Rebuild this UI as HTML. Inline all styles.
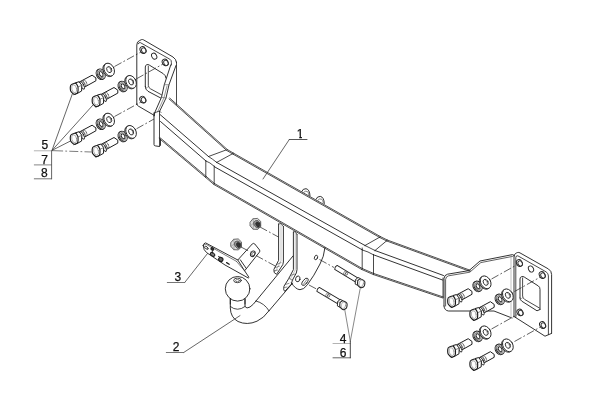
<!DOCTYPE html>
<html><head><meta charset="utf-8"><title>Towbar exploded view</title>
<style>html,body{margin:0;padding:0;background:#fff}svg{display:block}</style></head>
<body>
<svg style="filter:grayscale(1)" width="600" height="411" viewBox="0 0 600 411" fill="none" stroke-linecap="round" stroke-linejoin="round">
<rect width="600" height="411" fill="#fff"/>
<line x1="176.5" y1="62" x2="176.5" y2="104.5" stroke="#1c1c1c" stroke-width="0.8" />
<path d="M136.8,104 L136.8,45 Q136.8,41.5 139.5,40.6 L141.5,39.6 Q142.5,39.3 143.6,39.9 L173,57 Q176.2,59 176.5,62.5" stroke="#1c1c1c" stroke-width="0.9" fill="none" />
<path d="M138.2,43.8 Q138.6,42.2 140.3,42.6 L169.8,59.2 Q171.6,60.2 171.4,62.6 L171.4,65" stroke="#1c1c1c" stroke-width="0.8" fill="none" />
<path d="M136.8,104 Q136.9,105.3 138.2,106 L154.3,115.4" stroke="#1c1c1c" stroke-width="0.9" fill="none" />
<ellipse cx="143" cy="50" rx="2.8" ry="3.5" transform="rotate(-30 143 50)" stroke="#1c1c1c" stroke-width="0.9" fill="none"/>
<ellipse cx="143.8" cy="50.5" rx="2.1" ry="2.8" transform="rotate(-30 143.8 50.5)" stroke="#333" stroke-width="0.9" fill="none"/>
<ellipse cx="165.2" cy="62.4" rx="2.8" ry="3.5" transform="rotate(-30 165.2 62.4)" stroke="#1c1c1c" stroke-width="0.9" fill="none"/>
<ellipse cx="166.0" cy="62.9" rx="2.1" ry="2.8" transform="rotate(-30 166.0 62.9)" stroke="#333" stroke-width="0.9" fill="none"/>
<ellipse cx="142.8" cy="99.6" rx="2.8" ry="3.5" transform="rotate(-30 142.8 99.6)" stroke="#1c1c1c" stroke-width="0.9" fill="none"/>
<ellipse cx="143.60000000000002" cy="100.1" rx="2.1" ry="2.8" transform="rotate(-30 143.60000000000002 100.1)" stroke="#333" stroke-width="0.9" fill="none"/>
<ellipse cx="154.2" cy="56.2" rx="2.4" ry="3.2" transform="rotate(-30 154.2 56.2)" stroke="#1c1c1c" stroke-width="0.9" fill="none"/>
<path d="M145.3,86.5 L145.3,67 Q145.3,65.2 146.8,64.7 Q148,64.3 149.2,65 L163.3,73.7 Q165.8,75.4 166,78  M145.3,86.5 Q145.3,89.6 148,91.3 L160.7,98" stroke="#1c1c1c" stroke-width="0.9" fill="none" />
<path d="M148.3,66.2 L148.3,85.3 Q148.5,87.7 150.3,88.7 L161.5,94.8" stroke="#1c1c1c" stroke-width="0.8" fill="none" />
<path d="M145.6,88.4 L148.5,86.6" stroke="#555" stroke-width="0.5" fill="none" />
<path d="M170.8,64.8 L164.3,84.7 L161.5,97.3 L155,112 L154,116" stroke="#1c1c1c" stroke-width="0.9" fill="none" />
<path d="M176,65.5 L169,84.7 L166,98 L159.5,111.5" stroke="#1c1c1c" stroke-width="0.9" fill="none" />
<path d="M167,86 L164,97.6 L157.6,111.8" stroke="#555" stroke-width="0.6" fill="none" />
<path d="M164.3,84.7 L169,84.7 M161.5,97.3 L166,98" stroke="#555" stroke-width="0.6" fill="none" />
<path d="M154,113 L154,144.5 Q154,145.8 155.4,145.9 L159.5,146.5 L160.5,145.5 L160.5,139" stroke="#1c1c1c" stroke-width="0.9" fill="none" />
<line x1="159.5" y1="111.5" x2="159.5" y2="146" stroke="#1c1c1c" stroke-width="0.8" />
<path d="M154,113 L159.5,111 L161,112.5" stroke="#1c1c1c" stroke-width="0.7" fill="none" />
<line x1="169.03" y1="98.91" x2="226.63" y2="150.41" stroke="#222" stroke-width="0.8" />
<line x1="169.77" y1="98.09" x2="227.37" y2="149.59" stroke="#222" stroke-width="0.8" />
<line x1="160" y1="114.5" x2="208.5" y2="156.5" stroke="#1c1c1c" stroke-width="0.9" />
<line x1="160.5" y1="121.5" x2="206" y2="161" stroke="#1c1c1c" stroke-width="0.9" />
<line x1="159.15" y1="138.42" x2="205.65" y2="177.42" stroke="#222" stroke-width="0.8" />
<line x1="159.85" y1="137.58" x2="206.35" y2="176.58" stroke="#222" stroke-width="0.8" />
<path d="M208.5,156.5 L226,150  M216.7,162.4 L233,153.5" stroke="#1c1c1c" stroke-width="0.8" fill="none" />
<line x1="226.72" y1="150.47" x2="233.22" y2="154.27" stroke="#222" stroke-width="0.8" />
<line x1="227.28" y1="149.53" x2="233.78" y2="153.33" stroke="#222" stroke-width="0.8" />
<path d="M208.5,156.5 Q212,158.6 216.7,162.4 M206,161 Q209.5,162 214.5,166.5" stroke="#1c1c1c" stroke-width="0.8" fill="none" />
<path d="M205.8,160.5 L205.8,177 M214.2,166 L214.2,184" stroke="#1c1c1c" stroke-width="0.8" fill="none" />
<line x1="205.64" y1="177.42" x2="213.84" y2="184.42" stroke="#222" stroke-width="0.8" />
<line x1="206.36" y1="176.58" x2="214.56" y2="183.58" stroke="#222" stroke-width="0.8" />
<line x1="233.23" y1="154.28" x2="379.73" y2="237.48" stroke="#222" stroke-width="0.8" />
<line x1="233.77" y1="153.32" x2="380.27" y2="236.52" stroke="#222" stroke-width="0.8" />
<line x1="216.7" y1="162.4" x2="365" y2="245.5" stroke="#1c1c1c" stroke-width="0.9" />
<line x1="214.5" y1="166.8" x2="362.5" y2="250" stroke="#1c1c1c" stroke-width="0.9" />
<line x1="213.93" y1="184.48" x2="361.73" y2="269.48" stroke="#222" stroke-width="0.8" />
<line x1="214.47" y1="183.52" x2="362.27" y2="268.52" stroke="#222" stroke-width="0.8" />
<path d="M365,245.5 L380,237 M375,250.5 L387,240.5" stroke="#1c1c1c" stroke-width="0.8" fill="none" />
<line x1="379.75" y1="237.49" x2="386.75" y2="240.99" stroke="#222" stroke-width="0.8" />
<line x1="380.25" y1="236.51" x2="387.25" y2="240.01" stroke="#222" stroke-width="0.8" />
<path d="M365,245.5 L375,250.5 M362.5,250 Q368,251.5 373.5,254.8" stroke="#1c1c1c" stroke-width="0.8" fill="none" />
<path d="M362.2,248 L362.2,269 M373.5,254.5 L373.5,274" stroke="#1c1c1c" stroke-width="0.8" fill="none" />
<line x1="361.78" y1="269.5" x2="373.28" y2="274.5" stroke="#222" stroke-width="0.8" />
<line x1="362.22" y1="268.5" x2="373.72" y2="273.5" stroke="#222" stroke-width="0.8" />
<line x1="386.81" y1="241.02" x2="469.81" y2="271.32" stroke="#222" stroke-width="0.8" />
<line x1="387.19" y1="239.98" x2="470.19" y2="270.28" stroke="#222" stroke-width="0.8" />
<line x1="375" y1="250.5" x2="443.5" y2="275.5" stroke="#1c1c1c" stroke-width="0.9" />
<line x1="373.5" y1="254.8" x2="442.5" y2="280" stroke="#1c1c1c" stroke-width="0.9" />
<line x1="373.32" y1="274.52" x2="442.82" y2="298.02" stroke="#222" stroke-width="0.8" />
<line x1="373.68" y1="273.48" x2="443.18" y2="296.98" stroke="#222" stroke-width="0.8" />
<g transform="translate(0 0)">
<path d="M301.8,191.4 Q302.8,188.5 306,188.7 Q309.7,189.3 310,195.8" stroke="#1c1c1c" stroke-width="0.9" fill="none" />
<path d="M303.6,192.4 Q305.4,190.4 307.4,191.5 Q308.8,192.6 309,195.2" stroke="#555" stroke-width="0.7" fill="none" />
</g>
<g transform="translate(14.3 7.7)">
<path d="M301.8,191.4 Q302.8,188.5 306,188.7 Q309.7,189.3 310,195.8" stroke="#1c1c1c" stroke-width="0.9" fill="none" />
<path d="M303.6,192.4 Q305.4,190.4 307.4,191.5 Q308.8,192.6 309,195.2" stroke="#555" stroke-width="0.7" fill="none" />
</g>
<path d="M278.6,224 L278.6,260.4 L273.9,269.4 Q273.4,273.6 276.6,274.3 L282.8,264.6 L283.4,262 L283.4,226.5" stroke="#1c1c1c" stroke-width="0.9" fill="#fff" />
<path d="M281,225 L281,260.6 L275.6,271" stroke="#8a8a8a" stroke-width="0.5" fill="none" />
<path d="M278.6,224 L281,223.6 L283.4,226.5" stroke="#1c1c1c" stroke-width="0.7" fill="none" />
<path d="M276.4,264.6 L281,262.6 M274.8,267.8 L279.4,266.2 M274,271 L277.6,270" stroke="#444" stroke-width="0.6" fill="none" />
<path d="M293.4,232 L293.4,269.6 L288.9,278.3 L284,286.2 Q283,290.8 285,291.2 L291.3,284.2 L292.4,280.2 L296.3,273 L297,269.6 L297,234.5" stroke="#1c1c1c" stroke-width="0.9" fill="#fff" />
<path d="M295.2,233 L295.2,270 L290.4,279" stroke="#8a8a8a" stroke-width="0.5" fill="none" />
<path d="M293.4,232 L295.2,231.6 L297,234.5" stroke="#1c1c1c" stroke-width="0.7" fill="none" />
<path d="M290.6,275.4 L295,274 M288.9,278.3 L292.8,280.4 M285.4,284.4 L289,283.4 M284.4,287.6 L287,287" stroke="#444" stroke-width="0.6" fill="none" />
<path d="M325,247.5 Q324,257 320,264 Q314,276 307.4,284.8 Q303.6,289.8 300,289.7 Q295.4,289.4 291.4,282.8" stroke="#1c1c1c" stroke-width="0.9" fill="none" />
<ellipse cx="316" cy="257.5" rx="1.5" ry="2.4" transform="rotate(20 316 257.5)" stroke="#1c1c1c" stroke-width="0.8" fill="none"/>
<ellipse cx="297.8" cy="278.9" rx="2.2" ry="2.9" transform="rotate(15 297.8 278.9)" stroke="#1c1c1c" stroke-width="0.85" fill="none"/>
<ellipse cx="305" cy="281.8" rx="2.1" ry="4.3" transform="rotate(38 305 281.8)" stroke="#1c1c1c" stroke-width="0.85" fill="none"/>
<path d="M303.6,284 L306.6,279.8" stroke="#444" stroke-width="0.6" fill="none" />
<path d="M293,256 L256,301" stroke="#1c1c1c" stroke-width="0.9" fill="none" />
<path d="M292.5,283.2 L269,310.8" stroke="#1c1c1c" stroke-width="0.9" fill="none" />
<path d="M245,299 L245,306.5 Q246.5,309.2 250,307 Q253.5,304.6 256,301" stroke="#1c1c1c" stroke-width="0.9" fill="none" />
<path d="M230.3,299 L230.3,308 Q230.6,317.5 238,321.5 Q247,325.6 257,321.2 Q263.5,318.4 269,310.8" stroke="#1c1c1c" stroke-width="0.9" fill="none" />
<path d="M256,301 Q264.5,303.2 269,310.8" stroke="#1c1c1c" stroke-width="0.8" fill="none" />
<path d="M230.3,306.5 Q237.5,312.2 245,306.5" stroke="#1c1c1c" stroke-width="0.8" fill="none" />
<ellipse cx="237.6" cy="288.8" rx="12.3" ry="12.3" transform="rotate(0 237.6 288.8)" stroke="#1c1c1c" stroke-width="0.9" fill="#fff"/>
<path d="M230.3,298.6 L230.3,304 M245,298.8 L245,304" stroke="#1c1c1c" stroke-width="0.9" fill="none" />
<ellipse cx="237.5" cy="280.4" rx="3.8" ry="2.3" transform="rotate(0 237.5 280.4)" stroke="#1c1c1c" stroke-width="0.8" fill="none"/>
<ellipse cx="237.5" cy="280.6" rx="2.0" ry="1.1" transform="rotate(0 237.5 280.6)" stroke="#555" stroke-width="0.7" fill="none"/>
<path d="M203.2,245.6 Q203.6,243 205.6,242.9 L237.8,260 L252.3,243.9 Q253.6,242.8 254.8,244 L259.6,250 Q260.2,251.2 259.4,252.2 L246.4,268.6 L244.6,270.8 L249,277.4 L248.3,278 L225,265 L206.6,252.6 Q203.5,250.4 203.2,245.6 Z" stroke="#1c1c1c" stroke-width="0.9" fill="#fff" />
<path d="M204.4,244.6 Q205.2,244 206.6,244.6 L236.4,261.3" stroke="#444" stroke-width="0.7" fill="none" />
<path d="M237.8,260 L244.6,270.8 M240.3,259.8 L246.4,268.6" stroke="#1c1c1c" stroke-width="0.9" fill="none" />
<path d="M236.4,261.3 L244.6,270.8" stroke="#444" stroke-width="0.7" fill="none" />
<ellipse cx="252.8" cy="253.8" rx="2.1" ry="3.0" transform="rotate(28 252.8 253.8)" stroke="#1c1c1c" stroke-width="0.9" fill="none"/>
<ellipse cx="253.3" cy="254.1" rx="1.3" ry="2.1" transform="rotate(28 253.3 254.1)" stroke="#333" stroke-width="0.7" fill="none"/>
<ellipse cx="206.4" cy="247.8" rx="2.0" ry="1.1" transform="rotate(35 206.4 247.8)" stroke="#1c1c1c" stroke-width="0.8" fill="none"/>
<ellipse cx="212.3" cy="248.9" rx="1.5" ry="1.2" transform="rotate(30 212.3 248.9)" stroke="#1c1c1c" stroke-width="1.0" fill="#333"/>
<ellipse cx="212.6" cy="254.4" rx="2.4" ry="1.5" transform="rotate(35 212.6 254.4)" stroke="#1c1c1c" stroke-width="1.1" fill="#888"/>
<ellipse cx="220.8" cy="259.4" rx="2.2" ry="2.0" transform="rotate(35 220.8 259.4)" stroke="#1c1c1c" stroke-width="1.1" fill="#666"/>
<path d="M226.6,262.6 L229.2,264.2" stroke="#1c1c1c" stroke-width="1.3" fill="none" />
<path d="M212.3,250 L212.6,253 M218.4,256.4 L221,257.6" stroke="#1c1c1c" stroke-width="0.8" fill="none" />
<g transform="translate(255.5 224) rotate(0) scale(0.93)">
<path d="M-5.6,-2.2 L-2.8,-5.6 L2.2,-6.0 L5.6,-2.8 L5.6,2.6 L2.4,5.8 L-2.6,5.6 L-5.6,2.2Z" stroke="#3a3a3a" stroke-width="0.8" fill="#dcdcdc" />
<path d="M-2.8,-5.6 L-2.0,-1.0 L-5.6,2.2 M-2.0,-1.0 L-2.6,5.6" stroke="#777" stroke-width="0.6" fill="none" />
<ellipse cx="1.8" cy="0.2" rx="3.3" ry="4.2" transform="rotate(-28 1.8 0.2)" stroke="#444" stroke-width="0.7" fill="#999"/>
<ellipse cx="2.4" cy="0.5" rx="2.0" ry="2.8" transform="rotate(-28 2.4 0.5)" stroke="#222" stroke-width="0.6" fill="#333"/>
</g>
<g transform="translate(236.2 244.5) rotate(0) scale(0.93)">
<path d="M-5.6,-2.2 L-2.8,-5.6 L2.2,-6.0 L5.6,-2.8 L5.6,2.6 L2.4,5.8 L-2.6,5.6 L-5.6,2.2Z" stroke="#3a3a3a" stroke-width="0.8" fill="#dcdcdc" />
<path d="M-2.8,-5.6 L-2.0,-1.0 L-5.6,2.2 M-2.0,-1.0 L-2.6,5.6" stroke="#777" stroke-width="0.6" fill="none" />
<ellipse cx="1.8" cy="0.2" rx="3.3" ry="4.2" transform="rotate(-28 1.8 0.2)" stroke="#444" stroke-width="0.7" fill="#999"/>
<ellipse cx="2.4" cy="0.5" rx="2.0" ry="2.8" transform="rotate(-28 2.4 0.5)" stroke="#222" stroke-width="0.6" fill="#333"/>
</g>
<line x1="260" y1="227" x2="278.5" y2="237" stroke="#1c1c1c" stroke-width="0.7" stroke-dasharray="8 2.2 1.8 2.2" stroke-linecap="butt"/>
<line x1="241" y1="247" x2="250.5" y2="252" stroke="#1c1c1c" stroke-width="0.7" stroke-dasharray="8 2.2 1.8 2.2" stroke-linecap="butt"/>
<line x1="256" y1="255.5" x2="277" y2="267" stroke="#1c1c1c" stroke-width="0.7" stroke-dasharray="8 2.2 1.8 2.2" stroke-linecap="butt"/>
<g transform="translate(361.6 282.9)">
<g transform="rotate(31)">
<path d="M-30,-2.35 L-5,-2.35 L-5,2.35 L-30,2.35 Q-31.4,0 -30,-2.35Z" stroke="#1c1c1c" stroke-width="0.9" fill="#fff" />
<ellipse cx="-19.6" cy="0" rx="0.9" ry="2.3" transform="rotate(0 -19.6 0)" stroke="#555" stroke-width="0.6" fill="none"/>
<ellipse cx="-17.6" cy="0" rx="0.9" ry="2.3" transform="rotate(0 -17.6 0)" stroke="#555" stroke-width="0.6" fill="none"/>
</g>
<path d="M-1.2,-4.3 L-3.6,-5.4 L-6.2,-3.2 L-6.4,1.2 L-4.1,2.3" stroke="#1c1c1c" stroke-width="0.9" fill="#fff" />
<path d="M-3.9,-2.4 L-6.2,-3.2" stroke="#555" stroke-width="0.6" fill="none" />
<path d="M-2.01,-3.73 Q-1.2,-4.3 0.21,-3.55 L2.09,-2.55 Q3.5,-1.8 3.32,-0.21 L3.08,1.91 Q2.9,3.5 1.82,4.01 L0.38,4.69 Q-0.7,5.2 -1.72,4.33 L-3.08,3.17 Q-4.1,2.3 -4.04,0.89 L-3.96,-0.99 Q-3.9,-2.4 -3.09,-2.97 Z" stroke="#1c1c1c" stroke-width="1.05" fill="#fff" />
<ellipse cx="-0.3" cy="0.4" rx="2.2" ry="3.4" transform="rotate(14 -0.3 0.4)" stroke="#777" stroke-width="0.5" fill="none"/>
</g>
<g transform="translate(343.8 304.8)">
<g transform="rotate(31)">
<path d="M-30,-2.35 L-5,-2.35 L-5,2.35 L-30,2.35 Q-31.4,0 -30,-2.35Z" stroke="#1c1c1c" stroke-width="0.9" fill="#fff" />
<ellipse cx="-19.6" cy="0" rx="0.9" ry="2.3" transform="rotate(0 -19.6 0)" stroke="#555" stroke-width="0.6" fill="none"/>
<ellipse cx="-17.6" cy="0" rx="0.9" ry="2.3" transform="rotate(0 -17.6 0)" stroke="#555" stroke-width="0.6" fill="none"/>
</g>
<path d="M-1.2,-4.3 L-3.6,-5.4 L-6.2,-3.2 L-6.4,1.2 L-4.1,2.3" stroke="#1c1c1c" stroke-width="0.9" fill="#fff" />
<path d="M-3.9,-2.4 L-6.2,-3.2" stroke="#555" stroke-width="0.6" fill="none" />
<path d="M-2.01,-3.73 Q-1.2,-4.3 0.21,-3.55 L2.09,-2.55 Q3.5,-1.8 3.32,-0.21 L3.08,1.91 Q2.9,3.5 1.82,4.01 L0.38,4.69 Q-0.7,5.2 -1.72,4.33 L-3.08,3.17 Q-4.1,2.3 -4.04,0.89 L-3.96,-0.99 Q-3.9,-2.4 -3.09,-2.97 Z" stroke="#1c1c1c" stroke-width="1.05" fill="#fff" />
<ellipse cx="-0.3" cy="0.4" rx="2.2" ry="3.4" transform="rotate(14 -0.3 0.4)" stroke="#777" stroke-width="0.5" fill="none"/>
</g>
<line x1="319.5" y1="259.5" x2="334" y2="267.5" stroke="#1c1c1c" stroke-width="0.7" stroke-dasharray="8 2.2 1.8 2.2" stroke-linecap="butt"/>
<line x1="309" y1="285" x2="316.5" y2="289" stroke="#1c1c1c" stroke-width="0.7" stroke-dasharray="8 2.2 1.8 2.2" stroke-linecap="butt"/>
<path d="M444,306 L444,278.5 Q444.2,275 447.5,274.2 L469,270.6 L480,261 L512.5,254.6 Q514,254.4 514,256" stroke="#1c1c1c" stroke-width="0.9" fill="none" />
<path d="M445.6,306 L445.6,279.5 Q445.8,276.4 448.6,275.8 L469.8,272.2 L480.8,262.6 L512.5,256.4" stroke="#1c1c1c" stroke-width="0.7" fill="none" />
<path d="M444,306 Q444.4,310.6 448.5,311 L494,311 L512,318" stroke="#1c1c1c" stroke-width="0.9" fill="none" />
<path d="M443,278 L443,297.5" stroke="#1c1c1c" stroke-width="0.8" fill="none" />
<path d="M514,316.5 L514,257 Q514,253.8 516.4,253 L517.6,252.5 Q518.8,252.2 520,252.9 L548.5,269 Q551.6,271 551.6,274.5 L551.6,333" stroke="#1c1c1c" stroke-width="0.9" fill="none" />
<path d="M515.8,317.5 L515.8,257.5 Q516,255.4 517.8,255.8 L546,271.8 Q548.4,273.2 548.4,276 L548.4,334.5" stroke="#1c1c1c" stroke-width="0.8" fill="none" />
<path d="M514,316.5 L545,336.2 L551.6,333.4" stroke="#1c1c1c" stroke-width="0.9" fill="none" />
<line x1="511" y1="255.2" x2="511" y2="317.6" stroke="#999" stroke-width="0.6" />
<ellipse cx="519.4" cy="263" rx="2.8" ry="3.5" transform="rotate(-30 519.4 263)" stroke="#1c1c1c" stroke-width="0.9" fill="none"/>
<ellipse cx="520.1999999999999" cy="263.5" rx="2.1" ry="2.8" transform="rotate(-30 520.1999999999999 263.5)" stroke="#333" stroke-width="0.9" fill="none"/>
<ellipse cx="542.2" cy="275" rx="2.8" ry="3.5" transform="rotate(-30 542.2 275)" stroke="#1c1c1c" stroke-width="0.9" fill="none"/>
<ellipse cx="543.0" cy="275.5" rx="2.1" ry="2.8" transform="rotate(-30 543.0 275.5)" stroke="#333" stroke-width="0.9" fill="none"/>
<ellipse cx="520" cy="312.4" rx="2.8" ry="3.5" transform="rotate(-30 520 312.4)" stroke="#1c1c1c" stroke-width="0.9" fill="none"/>
<ellipse cx="520.8" cy="312.9" rx="2.1" ry="2.8" transform="rotate(-30 520.8 312.9)" stroke="#333" stroke-width="0.9" fill="none"/>
<ellipse cx="542.6" cy="325" rx="2.8" ry="3.5" transform="rotate(-30 542.6 325)" stroke="#1c1c1c" stroke-width="0.9" fill="none"/>
<ellipse cx="543.4" cy="325.5" rx="2.1" ry="2.8" transform="rotate(-30 543.4 325.5)" stroke="#333" stroke-width="0.9" fill="none"/>
<ellipse cx="531" cy="269" rx="2.4" ry="3.2" transform="rotate(-30 531 269)" stroke="#1c1c1c" stroke-width="0.9" fill="none"/>
<path d="M520,298 L520,279 Q520,277 521.8,276.6 Q523,276.3 524.2,277 L538.4,286 Q540,287 540,289.5 L540,309.5  M520,298 Q520,300 521.8,301.2 L537,310.8 L540,309.5" stroke="#1c1c1c" stroke-width="0.9" fill="none" />
<path d="M522.6,278 L522.6,296 Q522.8,298.2 524.6,299.4 L539.4,308" stroke="#1c1c1c" stroke-width="0.8" fill="none" />
<path d="M520.2,299.6 L522.8,297.6" stroke="#555" stroke-width="0.5" fill="none" />
<g transform="translate(74.2 88.8) rotate(0)">
<path d="M4.80,-6.60 L17.90,-13.60 L21.70,-10.90 L21.70,-8.00 L10.50,-1.80Z" stroke="#1c1c1c" stroke-width="1.0" fill="#fff" />
<ellipse cx="9.2" cy="-5.0" rx="1.3" ry="3.3" transform="rotate(-27 9.2 -5.0)" stroke="#555" stroke-width="0.6" fill="none"/>
<ellipse cx="11.0" cy="-6.0" rx="1.3" ry="3.3" transform="rotate(-27 11.0 -6.0)" stroke="#555" stroke-width="0.6" fill="none"/>
<ellipse cx="8.0" cy="-3.4" rx="1.5" ry="4.3" transform="rotate(-27 8.0 -3.4)" stroke="#1c1c1c" stroke-width="0.8" fill="#fff"/>
<path d="M1.5,-6.1 L4.8,-7.0 L7.6,-3.6 L7.4,2.2 L3.7,4.3 L-0.3,5.8" stroke="#1c1c1c" stroke-width="1.0" fill="#fff" />
<path d="M4.0,-1.9 L7.6,-3.6" stroke="#555" stroke-width="0.7" fill="none" />
<path d="M-3.90,-1.88 Q-3.9,-3.8 -2.17,-4.54 L-0.23,-5.36 Q1.5,-6.1 2.30,-4.76 L3.20,-3.24 Q4.0,-1.9 3.90,0.08 L3.80,2.32 Q3.7,4.3 2.42,4.78 L0.98,5.32 Q-0.3,5.8 -1.45,4.65 L-2.75,3.35 Q-3.9,2.2 -3.90,0.28 Z" stroke="#1c1c1c" stroke-width="1.15" fill="#fff" />
<ellipse cx="0" cy="0" rx="2.4" ry="4.0" transform="rotate(-12 0 0)" stroke="#777" stroke-width="0.55" fill="none"/>
</g>
<g transform="translate(100.80000000000001 74.2) rotate(-27)">
<ellipse cx="-0.6" cy="0" rx="3.8" ry="5.4" transform="rotate(0 -0.6 0)" stroke="#1c1c1c" stroke-width="0.9" fill="#fff"/>
<ellipse cx="0.5" cy="0" rx="3.8" ry="5.4" transform="rotate(0 0.5 0)" stroke="#1c1c1c" stroke-width="0.9" fill="#e4e4e4"/>
<ellipse cx="0.4" cy="0" rx="2.6" ry="3.9" transform="rotate(0 0.4 0)" stroke="#444" stroke-width="0.6" fill="#fff"/>
<ellipse cx="0.4" cy="0" rx="1.6" ry="2.6" transform="rotate(0 0.4 0)" stroke="#1c1c1c" stroke-width="0.9" fill="#fff"/>
</g>
<g transform="translate(109.2 69.6) rotate(-27)">
<ellipse cx="-1.1" cy="0" rx="4.9" ry="6.8" transform="rotate(0 -1.1 0)" stroke="#1c1c1c" stroke-width="0.8" fill="#fff"/>
<ellipse cx="0" cy="0" rx="4.9" ry="6.8" transform="rotate(0 0 0)" stroke="#1c1c1c" stroke-width="0.85" fill="#fff"/>
<ellipse cx="0" cy="0" rx="2.3" ry="3.2" transform="rotate(0 0 0)" stroke="#1c1c1c" stroke-width="0.8" fill="#fff"/>
<path d="M0.6,-2.8000000000000003 Q2.5999999999999996,0 0.6,2.8000000000000003" stroke="#555" stroke-width="0.5" fill="none" />
</g>
<g transform="translate(96.1 101.1) rotate(0)">
<path d="M4.80,-6.60 L17.90,-13.60 L21.70,-10.90 L21.70,-8.00 L10.50,-1.80Z" stroke="#1c1c1c" stroke-width="1.0" fill="#fff" />
<ellipse cx="9.2" cy="-5.0" rx="1.3" ry="3.3" transform="rotate(-27 9.2 -5.0)" stroke="#555" stroke-width="0.6" fill="none"/>
<ellipse cx="11.0" cy="-6.0" rx="1.3" ry="3.3" transform="rotate(-27 11.0 -6.0)" stroke="#555" stroke-width="0.6" fill="none"/>
<ellipse cx="8.0" cy="-3.4" rx="1.5" ry="4.3" transform="rotate(-27 8.0 -3.4)" stroke="#1c1c1c" stroke-width="0.8" fill="#fff"/>
<path d="M1.5,-6.1 L4.8,-7.0 L7.6,-3.6 L7.4,2.2 L3.7,4.3 L-0.3,5.8" stroke="#1c1c1c" stroke-width="1.0" fill="#fff" />
<path d="M4.0,-1.9 L7.6,-3.6" stroke="#555" stroke-width="0.7" fill="none" />
<path d="M-3.90,-1.88 Q-3.9,-3.8 -2.17,-4.54 L-0.23,-5.36 Q1.5,-6.1 2.30,-4.76 L3.20,-3.24 Q4.0,-1.9 3.90,0.08 L3.80,2.32 Q3.7,4.3 2.42,4.78 L0.98,5.32 Q-0.3,5.8 -1.45,4.65 L-2.75,3.35 Q-3.9,2.2 -3.90,0.28 Z" stroke="#1c1c1c" stroke-width="1.15" fill="#fff" />
<ellipse cx="0" cy="0" rx="2.4" ry="4.0" transform="rotate(-12 0 0)" stroke="#777" stroke-width="0.55" fill="none"/>
</g>
<g transform="translate(122.69999999999999 86.5) rotate(-27)">
<ellipse cx="-0.6" cy="0" rx="3.8" ry="5.4" transform="rotate(0 -0.6 0)" stroke="#1c1c1c" stroke-width="0.9" fill="#fff"/>
<ellipse cx="0.5" cy="0" rx="3.8" ry="5.4" transform="rotate(0 0.5 0)" stroke="#1c1c1c" stroke-width="0.9" fill="#e4e4e4"/>
<ellipse cx="0.4" cy="0" rx="2.6" ry="3.9" transform="rotate(0 0.4 0)" stroke="#444" stroke-width="0.6" fill="#fff"/>
<ellipse cx="0.4" cy="0" rx="1.6" ry="2.6" transform="rotate(0 0.4 0)" stroke="#1c1c1c" stroke-width="0.9" fill="#fff"/>
</g>
<g transform="translate(131.1 81.89999999999999) rotate(-27)">
<ellipse cx="-1.1" cy="0" rx="4.9" ry="6.8" transform="rotate(0 -1.1 0)" stroke="#1c1c1c" stroke-width="0.8" fill="#fff"/>
<ellipse cx="0" cy="0" rx="4.9" ry="6.8" transform="rotate(0 0 0)" stroke="#1c1c1c" stroke-width="0.85" fill="#fff"/>
<ellipse cx="0" cy="0" rx="2.3" ry="3.2" transform="rotate(0 0 0)" stroke="#1c1c1c" stroke-width="0.8" fill="#fff"/>
<path d="M0.6,-2.8000000000000003 Q2.5999999999999996,0 0.6,2.8000000000000003" stroke="#555" stroke-width="0.5" fill="none" />
</g>
<g transform="translate(74.2 138.8) rotate(0)">
<path d="M4.80,-6.60 L17.90,-13.60 L21.70,-10.90 L21.70,-8.00 L10.50,-1.80Z" stroke="#1c1c1c" stroke-width="1.0" fill="#fff" />
<ellipse cx="9.2" cy="-5.0" rx="1.3" ry="3.3" transform="rotate(-27 9.2 -5.0)" stroke="#555" stroke-width="0.6" fill="none"/>
<ellipse cx="11.0" cy="-6.0" rx="1.3" ry="3.3" transform="rotate(-27 11.0 -6.0)" stroke="#555" stroke-width="0.6" fill="none"/>
<ellipse cx="8.0" cy="-3.4" rx="1.5" ry="4.3" transform="rotate(-27 8.0 -3.4)" stroke="#1c1c1c" stroke-width="0.8" fill="#fff"/>
<path d="M1.5,-6.1 L4.8,-7.0 L7.6,-3.6 L7.4,2.2 L3.7,4.3 L-0.3,5.8" stroke="#1c1c1c" stroke-width="1.0" fill="#fff" />
<path d="M4.0,-1.9 L7.6,-3.6" stroke="#555" stroke-width="0.7" fill="none" />
<path d="M-3.90,-1.88 Q-3.9,-3.8 -2.17,-4.54 L-0.23,-5.36 Q1.5,-6.1 2.30,-4.76 L3.20,-3.24 Q4.0,-1.9 3.90,0.08 L3.80,2.32 Q3.7,4.3 2.42,4.78 L0.98,5.32 Q-0.3,5.8 -1.45,4.65 L-2.75,3.35 Q-3.9,2.2 -3.90,0.28 Z" stroke="#1c1c1c" stroke-width="1.15" fill="#fff" />
<ellipse cx="0" cy="0" rx="2.4" ry="4.0" transform="rotate(-12 0 0)" stroke="#777" stroke-width="0.55" fill="none"/>
</g>
<g transform="translate(100.80000000000001 124.20000000000002) rotate(-27)">
<ellipse cx="-0.6" cy="0" rx="3.8" ry="5.4" transform="rotate(0 -0.6 0)" stroke="#1c1c1c" stroke-width="0.9" fill="#fff"/>
<ellipse cx="0.5" cy="0" rx="3.8" ry="5.4" transform="rotate(0 0.5 0)" stroke="#1c1c1c" stroke-width="0.9" fill="#e4e4e4"/>
<ellipse cx="0.4" cy="0" rx="2.6" ry="3.9" transform="rotate(0 0.4 0)" stroke="#444" stroke-width="0.6" fill="#fff"/>
<ellipse cx="0.4" cy="0" rx="1.6" ry="2.6" transform="rotate(0 0.4 0)" stroke="#1c1c1c" stroke-width="0.9" fill="#fff"/>
</g>
<g transform="translate(109.2 119.60000000000001) rotate(-27)">
<ellipse cx="-1.1" cy="0" rx="4.9" ry="6.8" transform="rotate(0 -1.1 0)" stroke="#1c1c1c" stroke-width="0.8" fill="#fff"/>
<ellipse cx="0" cy="0" rx="4.9" ry="6.8" transform="rotate(0 0 0)" stroke="#1c1c1c" stroke-width="0.85" fill="#fff"/>
<ellipse cx="0" cy="0" rx="2.3" ry="3.2" transform="rotate(0 0 0)" stroke="#1c1c1c" stroke-width="0.8" fill="#fff"/>
<path d="M0.6,-2.8000000000000003 Q2.5999999999999996,0 0.6,2.8000000000000003" stroke="#555" stroke-width="0.5" fill="none" />
</g>
<g transform="translate(96.1 151.10000000000002) rotate(0)">
<path d="M4.80,-6.60 L17.90,-13.60 L21.70,-10.90 L21.70,-8.00 L10.50,-1.80Z" stroke="#1c1c1c" stroke-width="1.0" fill="#fff" />
<ellipse cx="9.2" cy="-5.0" rx="1.3" ry="3.3" transform="rotate(-27 9.2 -5.0)" stroke="#555" stroke-width="0.6" fill="none"/>
<ellipse cx="11.0" cy="-6.0" rx="1.3" ry="3.3" transform="rotate(-27 11.0 -6.0)" stroke="#555" stroke-width="0.6" fill="none"/>
<ellipse cx="8.0" cy="-3.4" rx="1.5" ry="4.3" transform="rotate(-27 8.0 -3.4)" stroke="#1c1c1c" stroke-width="0.8" fill="#fff"/>
<path d="M1.5,-6.1 L4.8,-7.0 L7.6,-3.6 L7.4,2.2 L3.7,4.3 L-0.3,5.8" stroke="#1c1c1c" stroke-width="1.0" fill="#fff" />
<path d="M4.0,-1.9 L7.6,-3.6" stroke="#555" stroke-width="0.7" fill="none" />
<path d="M-3.90,-1.88 Q-3.9,-3.8 -2.17,-4.54 L-0.23,-5.36 Q1.5,-6.1 2.30,-4.76 L3.20,-3.24 Q4.0,-1.9 3.90,0.08 L3.80,2.32 Q3.7,4.3 2.42,4.78 L0.98,5.32 Q-0.3,5.8 -1.45,4.65 L-2.75,3.35 Q-3.9,2.2 -3.90,0.28 Z" stroke="#1c1c1c" stroke-width="1.15" fill="#fff" />
<ellipse cx="0" cy="0" rx="2.4" ry="4.0" transform="rotate(-12 0 0)" stroke="#777" stroke-width="0.55" fill="none"/>
</g>
<g transform="translate(122.69999999999999 136.50000000000003) rotate(-27)">
<ellipse cx="-0.6" cy="0" rx="3.8" ry="5.4" transform="rotate(0 -0.6 0)" stroke="#1c1c1c" stroke-width="0.9" fill="#fff"/>
<ellipse cx="0.5" cy="0" rx="3.8" ry="5.4" transform="rotate(0 0.5 0)" stroke="#1c1c1c" stroke-width="0.9" fill="#e4e4e4"/>
<ellipse cx="0.4" cy="0" rx="2.6" ry="3.9" transform="rotate(0 0.4 0)" stroke="#444" stroke-width="0.6" fill="#fff"/>
<ellipse cx="0.4" cy="0" rx="1.6" ry="2.6" transform="rotate(0 0.4 0)" stroke="#1c1c1c" stroke-width="0.9" fill="#fff"/>
</g>
<g transform="translate(131.1 131.90000000000003) rotate(-27)">
<ellipse cx="-1.1" cy="0" rx="4.9" ry="6.8" transform="rotate(0 -1.1 0)" stroke="#1c1c1c" stroke-width="0.8" fill="#fff"/>
<ellipse cx="0" cy="0" rx="4.9" ry="6.8" transform="rotate(0 0 0)" stroke="#1c1c1c" stroke-width="0.85" fill="#fff"/>
<ellipse cx="0" cy="0" rx="2.3" ry="3.2" transform="rotate(0 0 0)" stroke="#1c1c1c" stroke-width="0.8" fill="#fff"/>
<path d="M0.6,-2.8000000000000003 Q2.5999999999999996,0 0.6,2.8000000000000003" stroke="#555" stroke-width="0.5" fill="none" />
</g>
<line x1="114.5" y1="66.5" x2="141" y2="52" stroke="#1c1c1c" stroke-width="0.7" stroke-dasharray="8 2.2 1.8 2.2" stroke-linecap="butt"/>
<line x1="136.5" y1="78.8" x2="163" y2="64" stroke="#1c1c1c" stroke-width="0.7" stroke-dasharray="8 2.2 1.8 2.2" stroke-linecap="butt"/>
<line x1="114.5" y1="116.5" x2="141" y2="102" stroke="#1c1c1c" stroke-width="0.7" stroke-dasharray="8 2.2 1.8 2.2" stroke-linecap="butt"/>
<line x1="136.5" y1="128.8" x2="154" y2="119" stroke="#1c1c1c" stroke-width="0.7" stroke-dasharray="8 2.2 1.8 2.2" stroke-linecap="butt"/>
<g transform="translate(451.6 301.6) rotate(0)">
<path d="M4.80,-6.60 L16.58,-12.90 L20.38,-10.20 L20.38,-7.30 L10.50,-1.80Z" stroke="#1c1c1c" stroke-width="1.0" fill="#fff" />
<ellipse cx="9.2" cy="-5.0" rx="1.3" ry="3.3" transform="rotate(-27 9.2 -5.0)" stroke="#555" stroke-width="0.6" fill="none"/>
<ellipse cx="11.0" cy="-6.0" rx="1.3" ry="3.3" transform="rotate(-27 11.0 -6.0)" stroke="#555" stroke-width="0.6" fill="none"/>
<ellipse cx="8.0" cy="-3.4" rx="1.5" ry="4.3" transform="rotate(-27 8.0 -3.4)" stroke="#1c1c1c" stroke-width="0.8" fill="#fff"/>
<path d="M1.5,-6.1 L4.8,-7.0 L7.6,-3.6 L7.4,2.2 L3.7,4.3 L-0.3,5.8" stroke="#1c1c1c" stroke-width="1.0" fill="#fff" />
<path d="M4.0,-1.9 L7.6,-3.6" stroke="#555" stroke-width="0.7" fill="none" />
<path d="M-3.90,-1.88 Q-3.9,-3.8 -2.17,-4.54 L-0.23,-5.36 Q1.5,-6.1 2.30,-4.76 L3.20,-3.24 Q4.0,-1.9 3.90,0.08 L3.80,2.32 Q3.7,4.3 2.42,4.78 L0.98,5.32 Q-0.3,5.8 -1.45,4.65 L-2.75,3.35 Q-3.9,2.2 -3.90,0.28 Z" stroke="#1c1c1c" stroke-width="1.15" fill="#fff" />
<ellipse cx="0" cy="0" rx="2.4" ry="4.0" transform="rotate(-12 0 0)" stroke="#777" stroke-width="0.55" fill="none"/>
</g>
<g transform="translate(477.6 286.40000000000003) rotate(-29)">
<ellipse cx="-0.6" cy="0" rx="3.8" ry="5.4" transform="rotate(0 -0.6 0)" stroke="#1c1c1c" stroke-width="0.9" fill="#fff"/>
<ellipse cx="0.5" cy="0" rx="3.8" ry="5.4" transform="rotate(0 0.5 0)" stroke="#1c1c1c" stroke-width="0.9" fill="#e4e4e4"/>
<ellipse cx="0.4" cy="0" rx="2.6" ry="3.9" transform="rotate(0 0.4 0)" stroke="#444" stroke-width="0.6" fill="#fff"/>
<ellipse cx="0.4" cy="0" rx="1.6" ry="2.6" transform="rotate(0 0.4 0)" stroke="#1c1c1c" stroke-width="0.9" fill="#fff"/>
</g>
<g transform="translate(485.70000000000005 282.3) rotate(-29)">
<ellipse cx="-1.1" cy="0" rx="4.9" ry="6.8" transform="rotate(0 -1.1 0)" stroke="#1c1c1c" stroke-width="0.8" fill="#fff"/>
<ellipse cx="0" cy="0" rx="4.9" ry="6.8" transform="rotate(0 0 0)" stroke="#1c1c1c" stroke-width="0.85" fill="#fff"/>
<ellipse cx="0" cy="0" rx="2.3" ry="3.2" transform="rotate(0 0 0)" stroke="#1c1c1c" stroke-width="0.8" fill="#fff"/>
<path d="M0.6,-2.8000000000000003 Q2.5999999999999996,0 0.6,2.8000000000000003" stroke="#555" stroke-width="0.5" fill="none" />
</g>
<g transform="translate(473.8 314.6) rotate(0)">
<path d="M4.80,-6.60 L16.58,-12.90 L20.38,-10.20 L20.38,-7.30 L10.50,-1.80Z" stroke="#1c1c1c" stroke-width="1.0" fill="#fff" />
<ellipse cx="9.2" cy="-5.0" rx="1.3" ry="3.3" transform="rotate(-27 9.2 -5.0)" stroke="#555" stroke-width="0.6" fill="none"/>
<ellipse cx="11.0" cy="-6.0" rx="1.3" ry="3.3" transform="rotate(-27 11.0 -6.0)" stroke="#555" stroke-width="0.6" fill="none"/>
<ellipse cx="8.0" cy="-3.4" rx="1.5" ry="4.3" transform="rotate(-27 8.0 -3.4)" stroke="#1c1c1c" stroke-width="0.8" fill="#fff"/>
<path d="M1.5,-6.1 L4.8,-7.0 L7.6,-3.6 L7.4,2.2 L3.7,4.3 L-0.3,5.8" stroke="#1c1c1c" stroke-width="1.0" fill="#fff" />
<path d="M4.0,-1.9 L7.6,-3.6" stroke="#555" stroke-width="0.7" fill="none" />
<path d="M-3.90,-1.88 Q-3.9,-3.8 -2.17,-4.54 L-0.23,-5.36 Q1.5,-6.1 2.30,-4.76 L3.20,-3.24 Q4.0,-1.9 3.90,0.08 L3.80,2.32 Q3.7,4.3 2.42,4.78 L0.98,5.32 Q-0.3,5.8 -1.45,4.65 L-2.75,3.35 Q-3.9,2.2 -3.90,0.28 Z" stroke="#1c1c1c" stroke-width="1.15" fill="#fff" />
<ellipse cx="0" cy="0" rx="2.4" ry="4.0" transform="rotate(-12 0 0)" stroke="#777" stroke-width="0.55" fill="none"/>
</g>
<g transform="translate(499.8 299.40000000000003) rotate(-29)">
<ellipse cx="-0.6" cy="0" rx="3.8" ry="5.4" transform="rotate(0 -0.6 0)" stroke="#1c1c1c" stroke-width="0.9" fill="#fff"/>
<ellipse cx="0.5" cy="0" rx="3.8" ry="5.4" transform="rotate(0 0.5 0)" stroke="#1c1c1c" stroke-width="0.9" fill="#e4e4e4"/>
<ellipse cx="0.4" cy="0" rx="2.6" ry="3.9" transform="rotate(0 0.4 0)" stroke="#444" stroke-width="0.6" fill="#fff"/>
<ellipse cx="0.4" cy="0" rx="1.6" ry="2.6" transform="rotate(0 0.4 0)" stroke="#1c1c1c" stroke-width="0.9" fill="#fff"/>
</g>
<g transform="translate(507.90000000000003 295.3) rotate(-29)">
<ellipse cx="-1.1" cy="0" rx="4.9" ry="6.8" transform="rotate(0 -1.1 0)" stroke="#1c1c1c" stroke-width="0.8" fill="#fff"/>
<ellipse cx="0" cy="0" rx="4.9" ry="6.8" transform="rotate(0 0 0)" stroke="#1c1c1c" stroke-width="0.85" fill="#fff"/>
<ellipse cx="0" cy="0" rx="2.3" ry="3.2" transform="rotate(0 0 0)" stroke="#1c1c1c" stroke-width="0.8" fill="#fff"/>
<path d="M0.6,-2.8000000000000003 Q2.5999999999999996,0 0.6,2.8000000000000003" stroke="#555" stroke-width="0.5" fill="none" />
</g>
<g transform="translate(451.6 351.6) rotate(0)">
<path d="M4.80,-6.60 L16.58,-12.90 L20.38,-10.20 L20.38,-7.30 L10.50,-1.80Z" stroke="#1c1c1c" stroke-width="1.0" fill="#fff" />
<ellipse cx="9.2" cy="-5.0" rx="1.3" ry="3.3" transform="rotate(-27 9.2 -5.0)" stroke="#555" stroke-width="0.6" fill="none"/>
<ellipse cx="11.0" cy="-6.0" rx="1.3" ry="3.3" transform="rotate(-27 11.0 -6.0)" stroke="#555" stroke-width="0.6" fill="none"/>
<ellipse cx="8.0" cy="-3.4" rx="1.5" ry="4.3" transform="rotate(-27 8.0 -3.4)" stroke="#1c1c1c" stroke-width="0.8" fill="#fff"/>
<path d="M1.5,-6.1 L4.8,-7.0 L7.6,-3.6 L7.4,2.2 L3.7,4.3 L-0.3,5.8" stroke="#1c1c1c" stroke-width="1.0" fill="#fff" />
<path d="M4.0,-1.9 L7.6,-3.6" stroke="#555" stroke-width="0.7" fill="none" />
<path d="M-3.90,-1.88 Q-3.9,-3.8 -2.17,-4.54 L-0.23,-5.36 Q1.5,-6.1 2.30,-4.76 L3.20,-3.24 Q4.0,-1.9 3.90,0.08 L3.80,2.32 Q3.7,4.3 2.42,4.78 L0.98,5.32 Q-0.3,5.8 -1.45,4.65 L-2.75,3.35 Q-3.9,2.2 -3.90,0.28 Z" stroke="#1c1c1c" stroke-width="1.15" fill="#fff" />
<ellipse cx="0" cy="0" rx="2.4" ry="4.0" transform="rotate(-12 0 0)" stroke="#777" stroke-width="0.55" fill="none"/>
</g>
<g transform="translate(477.6 336.40000000000003) rotate(-29)">
<ellipse cx="-0.6" cy="0" rx="3.8" ry="5.4" transform="rotate(0 -0.6 0)" stroke="#1c1c1c" stroke-width="0.9" fill="#fff"/>
<ellipse cx="0.5" cy="0" rx="3.8" ry="5.4" transform="rotate(0 0.5 0)" stroke="#1c1c1c" stroke-width="0.9" fill="#e4e4e4"/>
<ellipse cx="0.4" cy="0" rx="2.6" ry="3.9" transform="rotate(0 0.4 0)" stroke="#444" stroke-width="0.6" fill="#fff"/>
<ellipse cx="0.4" cy="0" rx="1.6" ry="2.6" transform="rotate(0 0.4 0)" stroke="#1c1c1c" stroke-width="0.9" fill="#fff"/>
</g>
<g transform="translate(485.70000000000005 332.3) rotate(-29)">
<ellipse cx="-1.1" cy="0" rx="4.9" ry="6.8" transform="rotate(0 -1.1 0)" stroke="#1c1c1c" stroke-width="0.8" fill="#fff"/>
<ellipse cx="0" cy="0" rx="4.9" ry="6.8" transform="rotate(0 0 0)" stroke="#1c1c1c" stroke-width="0.85" fill="#fff"/>
<ellipse cx="0" cy="0" rx="2.3" ry="3.2" transform="rotate(0 0 0)" stroke="#1c1c1c" stroke-width="0.8" fill="#fff"/>
<path d="M0.6,-2.8000000000000003 Q2.5999999999999996,0 0.6,2.8000000000000003" stroke="#555" stroke-width="0.5" fill="none" />
</g>
<g transform="translate(473.8 364.6) rotate(0)">
<path d="M4.80,-6.60 L16.58,-12.90 L20.38,-10.20 L20.38,-7.30 L10.50,-1.80Z" stroke="#1c1c1c" stroke-width="1.0" fill="#fff" />
<ellipse cx="9.2" cy="-5.0" rx="1.3" ry="3.3" transform="rotate(-27 9.2 -5.0)" stroke="#555" stroke-width="0.6" fill="none"/>
<ellipse cx="11.0" cy="-6.0" rx="1.3" ry="3.3" transform="rotate(-27 11.0 -6.0)" stroke="#555" stroke-width="0.6" fill="none"/>
<ellipse cx="8.0" cy="-3.4" rx="1.5" ry="4.3" transform="rotate(-27 8.0 -3.4)" stroke="#1c1c1c" stroke-width="0.8" fill="#fff"/>
<path d="M1.5,-6.1 L4.8,-7.0 L7.6,-3.6 L7.4,2.2 L3.7,4.3 L-0.3,5.8" stroke="#1c1c1c" stroke-width="1.0" fill="#fff" />
<path d="M4.0,-1.9 L7.6,-3.6" stroke="#555" stroke-width="0.7" fill="none" />
<path d="M-3.90,-1.88 Q-3.9,-3.8 -2.17,-4.54 L-0.23,-5.36 Q1.5,-6.1 2.30,-4.76 L3.20,-3.24 Q4.0,-1.9 3.90,0.08 L3.80,2.32 Q3.7,4.3 2.42,4.78 L0.98,5.32 Q-0.3,5.8 -1.45,4.65 L-2.75,3.35 Q-3.9,2.2 -3.90,0.28 Z" stroke="#1c1c1c" stroke-width="1.15" fill="#fff" />
<ellipse cx="0" cy="0" rx="2.4" ry="4.0" transform="rotate(-12 0 0)" stroke="#777" stroke-width="0.55" fill="none"/>
</g>
<g transform="translate(499.8 349.40000000000003) rotate(-29)">
<ellipse cx="-0.6" cy="0" rx="3.8" ry="5.4" transform="rotate(0 -0.6 0)" stroke="#1c1c1c" stroke-width="0.9" fill="#fff"/>
<ellipse cx="0.5" cy="0" rx="3.8" ry="5.4" transform="rotate(0 0.5 0)" stroke="#1c1c1c" stroke-width="0.9" fill="#e4e4e4"/>
<ellipse cx="0.4" cy="0" rx="2.6" ry="3.9" transform="rotate(0 0.4 0)" stroke="#444" stroke-width="0.6" fill="#fff"/>
<ellipse cx="0.4" cy="0" rx="1.6" ry="2.6" transform="rotate(0 0.4 0)" stroke="#1c1c1c" stroke-width="0.9" fill="#fff"/>
</g>
<g transform="translate(507.90000000000003 345.3) rotate(-29)">
<ellipse cx="-1.1" cy="0" rx="4.9" ry="6.8" transform="rotate(0 -1.1 0)" stroke="#1c1c1c" stroke-width="0.8" fill="#fff"/>
<ellipse cx="0" cy="0" rx="4.9" ry="6.8" transform="rotate(0 0 0)" stroke="#1c1c1c" stroke-width="0.85" fill="#fff"/>
<ellipse cx="0" cy="0" rx="2.3" ry="3.2" transform="rotate(0 0 0)" stroke="#1c1c1c" stroke-width="0.8" fill="#fff"/>
<path d="M0.6,-2.8000000000000003 Q2.5999999999999996,0 0.6,2.8000000000000003" stroke="#555" stroke-width="0.5" fill="none" />
</g>
<line x1="491.5" y1="279" x2="517.5" y2="264.5" stroke="#1c1c1c" stroke-width="0.7" stroke-dasharray="8 2.2 1.8 2.2" stroke-linecap="butt"/>
<line x1="514.5" y1="291.5" x2="540.5" y2="277" stroke="#1c1c1c" stroke-width="0.7" stroke-dasharray="8 2.2 1.8 2.2" stroke-linecap="butt"/>
<line x1="491.5" y1="329" x2="517.5" y2="314.5" stroke="#1c1c1c" stroke-width="0.7" stroke-dasharray="8 2.2 1.8 2.2" stroke-linecap="butt"/>
<line x1="514.5" y1="341.5" x2="540.5" y2="327" stroke="#1c1c1c" stroke-width="0.7" stroke-dasharray="8 2.2 1.8 2.2" stroke-linecap="butt"/>
<line x1="52" y1="150.4" x2="72.5" y2="93.5" stroke="#333" stroke-width="0.75" />
<line x1="52" y1="150.4" x2="93" y2="105" stroke="#333" stroke-width="0.75" />
<line x1="52" y1="150.4" x2="70.5" y2="141" stroke="#333" stroke-width="0.75" />
<line x1="51.6" y1="150.6" x2="91.6" y2="152" stroke="#444" stroke-width="0.7" stroke-dasharray="11.5 2.2 1.8 2.2 9 2.2 1.8 2.2" stroke-linecap="butt"/>
<path d="M34.3,150.8 L51.6,150.8" stroke="#aaa" stroke-width="0.9" fill="none" />
<path d="M34.3,164.9 L51.6,164.9" stroke="#777" stroke-width="0.9" fill="none" />
<path d="M34.3,178.8 L51.6,178.8" stroke="#666" stroke-width="0.9" fill="none" />
<line x1="51.6" y1="150.8" x2="51.6" y2="178.8" stroke="#555" stroke-width="0.9" />
<path d="M263,179 L289.3,139.5" stroke="#333" stroke-width="0.75" fill="none" />
<path d="M289.3,139.5 L307,139.5" stroke="#444" stroke-width="0.9" fill="none" />
<path d="M207.5,253.5 L184.7,282.5" stroke="#333" stroke-width="0.75" fill="none" />
<path d="M167.3,282.5 L184.7,282.5" stroke="#666" stroke-width="0.9" fill="none" />
<path d="M240,315.6 L183.7,352.5" stroke="#333" stroke-width="0.75" fill="none" />
<path d="M166.3,352.5 L183.7,352.5" stroke="#666" stroke-width="0.9" fill="none" />
<path d="M360.2,288.5 L350.3,341.3 M344.8,310 L350.3,341.3" stroke="#555" stroke-width="0.7" fill="stroke-dasharray="2.6 0.9" stroke-linecap="butt"" />
<path d="M333,343.5 L350.3,343.5" stroke="#aaa" stroke-width="0.9" fill="none" />
<path d="M333,357.8 L350.3,357.8" stroke="#555" stroke-width="0.9" fill="none" />
<line x1="350.3" y1="341.3" x2="350.3" y2="357.8" stroke="#333" stroke-width="0.9" />
<text x="44.9" y="149.3" font-family="Liberation Sans, sans-serif" font-size="12" fill="#111" stroke="#111" stroke-width="0.25" text-anchor="middle" >5</text>
<text x="44.6" y="163.7" font-family="Liberation Sans, sans-serif" font-size="12" fill="#111" stroke="#111" stroke-width="0.25" text-anchor="middle" >7</text>
<text x="44.3" y="177" font-family="Liberation Sans, sans-serif" font-size="12" fill="#111" stroke="#111" stroke-width="0.25" text-anchor="middle" >8</text>
<clipPath id="c1"><path d="M296,126 H304 V135.2 H301.9 V139 H299.3 V135.2 H296Z"/></clipPath>
<text x="300.2" y="137.7" font-family="Liberation Sans, sans-serif" font-size="12" fill="#111" stroke="#111" stroke-width="0.25" text-anchor="middle" clip-path="url(#c1)">1</text>
<text x="177.8" y="281" font-family="Liberation Sans, sans-serif" font-size="12" fill="#111" stroke="#111" stroke-width="0.25" text-anchor="middle" >3</text>
<text x="176.2" y="351" font-family="Liberation Sans, sans-serif" font-size="12" fill="#111" stroke="#111" stroke-width="0.25" text-anchor="middle" >2</text>
<text x="343" y="342.8" font-family="Liberation Sans, sans-serif" font-size="12" fill="#111" stroke="#111" stroke-width="0.25" text-anchor="middle" >4</text>
<text x="343.1" y="356.7" font-family="Liberation Sans, sans-serif" font-size="12" fill="#111" stroke="#111" stroke-width="0.25" text-anchor="middle" >6</text>
</svg>
</body></html>
